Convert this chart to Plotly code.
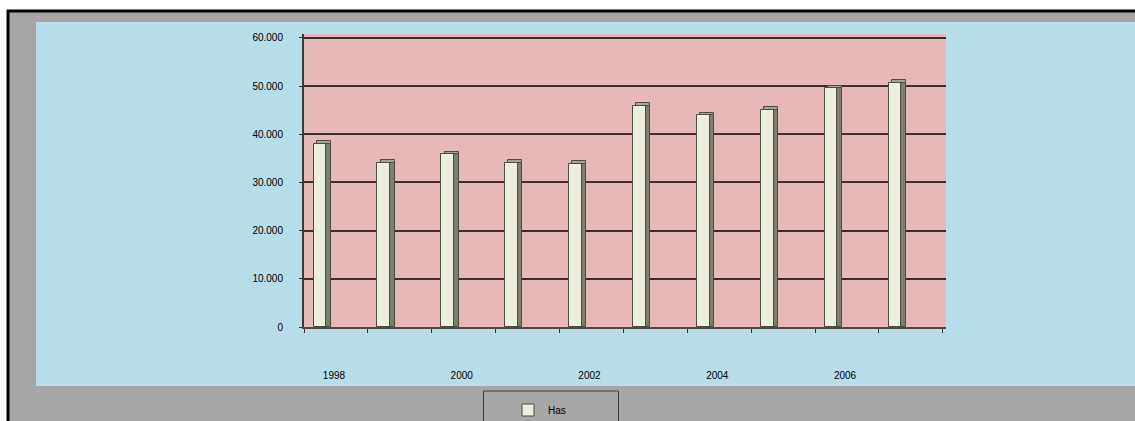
import plotly.graph_objects as go

# Annual values for the "Has" series
years = [1998, 1999, 2000, 2001, 2002, 2003, 2004, 2005, 2006, 2007]
has_values = [38.0, 34.0, 35.8, 34.0, 33.9, 45.8, 43.9, 45.0, 49.5, 50.6]

y_tick_vals = [0, 10, 20, 30, 40, 50, 60]
y_tick_text = ["0", "10.000", "20.000", "30.000", "40.000", "50.000", "60.000"]
x_tick_vals = [1998, 2000, 2002, 2004, 2006]
x_tick_text = ["1998", "2000", "2002", "2004", "2006"]

W, H = 1135, 421


def px_x(p):
    return p / W


def px_y(p):
    return 1 - p / H


FONT = "Liberation Sans"
GREY = "#a6a6a6"
EDGE = "#4d4d45"

fig = go.Figure()

# front face of each column
fig.add_trace(go.Bar(
    x=years, y=has_values, name="Has",
    width=0.2, offset=-0.1,
    marker=dict(color="#ebf0dd", line=dict(color=EDGE, width=1)),
))
# shaded side face of each column
fig.add_trace(go.Bar(
    x=years, y=has_values, showlegend=False, hoverinfo="skip",
    width=0.07, offset=0.1,
    marker=dict(color="#7c7e6f", line=dict(color=EDGE, width=1)),
))
# thin top cap sitting on each column
fig.add_trace(go.Bar(
    x=years, y=[0.6] * len(years), base=has_values,
    showlegend=False, hoverinfo="skip",
    width=0.22, offset=-0.05,
    marker=dict(color="#a3a596", line=dict(color=EDGE, width=1)),
))


def rect(x0, x1, y0, y1, color):
    return dict(type="rect", xref="paper", yref="paper", layer="below",
                x0=px_x(x0), x1=px_x(x1), y0=px_y(y1), y1=px_y(y0),
                fillcolor=color, line=dict(width=0))


shapes = [
    # white page outside the frame
    rect(-5, W + 5, -5, 10, "#ffffff"),
    rect(-5, 7, -5, H + 5, "#ffffff"),
    # grey frame around the light blue chart area
    rect(7, W + 5, 10, 22, GREY),
    rect(7, 36, 10, H + 5, GREY),
    rect(7, W + 5, 386, H + 5, GREY),
    # black outer border, top and left
    dict(type="line", xref="paper", yref="paper",
         x0=px_x(7), x1=px_x(W + 5), y0=px_y(11), y1=px_y(11),
         line=dict(color="#000000", width=3)),
    dict(type="line", xref="paper", yref="paper",
         x0=px_x(8), x1=px_x(8), y0=px_y(H + 5), y1=px_y(10),
         line=dict(color="#000000", width=3)),
    # legend box
    dict(type="rect", xref="paper", yref="paper",
         x0=px_x(483.5), x1=px_x(618.5), y0=px_y(H + 5), y1=px_y(391),
         line=dict(color="#3c3c3c", width=1)),
]

fig.update_layout(
    width=W, height=H,
    margin=dict(l=0, r=0, t=0, b=0, autoexpand=False),
    paper_bgcolor="#b7dde8",
    plot_bgcolor="#e6b8b7",
    barmode="overlay",
    bargap=0,
    shapes=shapes,
    font=dict(family=FONT, size=10, color="#000000"),
    showlegend=True,
    legend=dict(
        x=px_x(508), y=px_y(410), xanchor="left", yanchor="middle",
        bgcolor="rgba(0,0,0,0)", font=dict(size=10, family=FONT),
        itemwidth=30, traceorder="normal",
    ),
    xaxis=dict(
        domain=[px_x(304), px_x(946)],
        range=[1997.75, 2007.8],
        tickmode="array", tickvals=x_tick_vals, ticktext=x_tick_text,
        ticks="", ticklabelshift=14, ticklabelstandoff=38,
        showgrid=False, zeroline=False,
        showline=True, linecolor="#4a4a4a", linewidth=2,
        minor=dict(tick0=1997.75, dtick=1, ticks="outside", ticklen=4,
                   tickcolor="#333333", showgrid=False),
        tickfont=dict(size=10, family=FONT),
        fixedrange=True,
    ),
    yaxis=dict(
        domain=[px_y(327), px_y(34)],
        range=[0, 60.8],
        tickmode="array", tickvals=y_tick_vals, ticktext=y_tick_text,
        ticks="outside", ticklen=3, tickcolor="#333333",
        ticklabelstandoff=14,
        showgrid=True, gridcolor="#3a3030", gridwidth=1.5,
        zeroline=False,
        showline=True, linecolor="#3a3a3a", linewidth=2,
        tickfont=dict(size=10, family=FONT),
        fixedrange=True,
    ),
)

fig.write_html("out.html")
